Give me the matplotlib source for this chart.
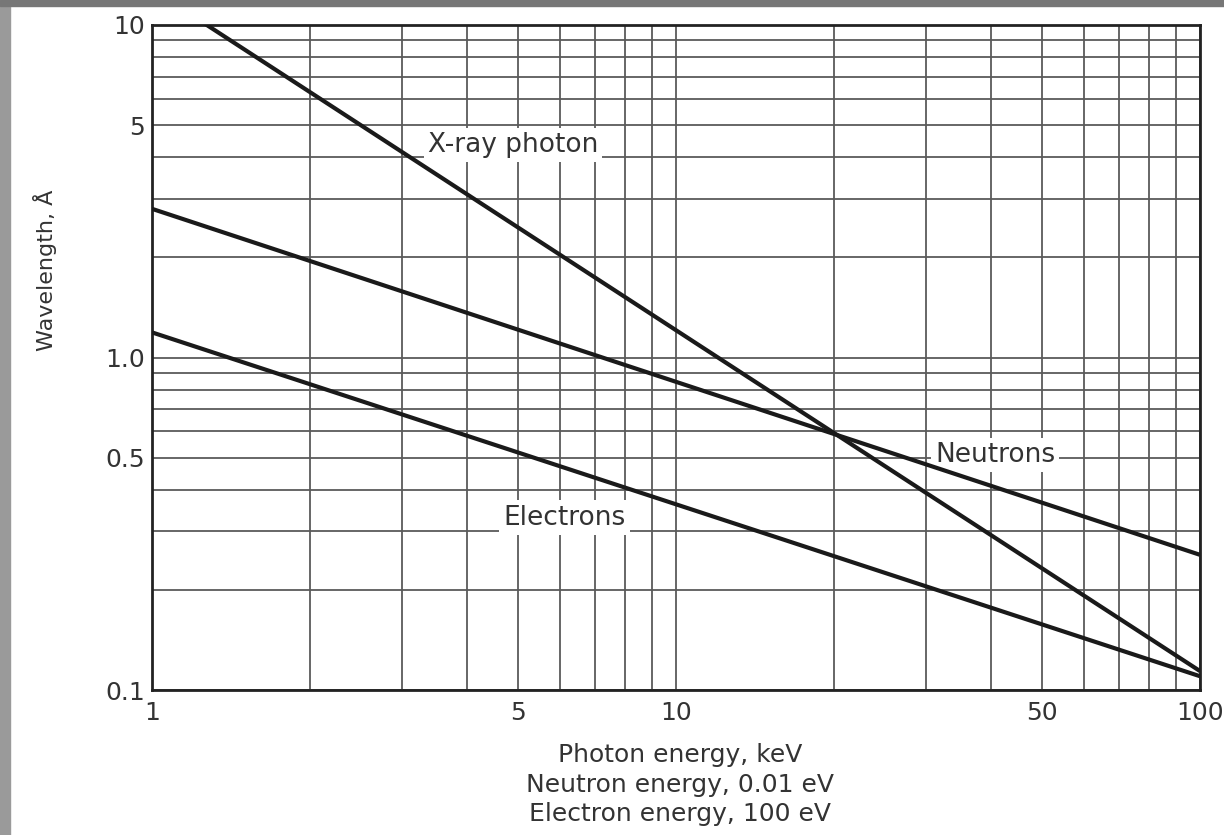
import matplotlib
matplotlib.use("Agg")
import matplotlib.pyplot as plt
from matplotlib.patches import Rectangle
from matplotlib.ticker import FixedLocator, LogLocator, NullFormatter

# energy axis (units: keV photon / 0.01 eV neutron / 100 eV electron)
energy = [1, 100]
xray_wl = [12.8, 0.114]
neutron_wl = [2.8, 0.255]
electron_wl = [1.19, 0.110]

x_ticks = [1, 5, 10, 50, 100]
x_tick_labels = ["1", "5", "10", "50", "100"]
y_ticks = [0.1, 0.5, 1.0, 5, 10]
y_tick_labels = ["0.1", "0.5", "1.0", "5", "10"]

plt.rcParams["font.family"] = ["DejaVu Sans"]
TXT = "#333333"

fig = plt.figure(figsize=(12.24, 8.35), dpi=100)
ax = fig.add_axes([152 / 1224, 1 - 690 / 835, 1048 / 1224, 665 / 835])

ax.set_xscale("log")
ax.set_yscale("log")
ax.set_xlim(1, 100)
ax.set_ylim(0.1, 10)

ax.xaxis.set_major_locator(FixedLocator(x_ticks))
ax.xaxis.set_minor_locator(LogLocator(base=10, subs=range(1, 10)))
ax.yaxis.set_major_locator(FixedLocator(y_ticks))
ax.yaxis.set_minor_locator(LogLocator(base=10, subs=range(1, 10)))
ax.xaxis.set_minor_formatter(NullFormatter())
ax.yaxis.set_minor_formatter(NullFormatter())
ax.set_xticklabels(x_tick_labels)
ax.set_yticklabels(y_tick_labels)
ax.tick_params(which="both", length=0, labelsize=18, labelcolor=TXT)
ax.tick_params(axis="x", pad=8)
ax.tick_params(axis="y", pad=5)

ax.grid(which="both", color="#5a5a5a", linewidth=1.3)
ax.set_axisbelow(True)
for s in ax.spines.values():
    s.set_linewidth(2)
    s.set_color("#222222")

for wl in (xray_wl, neutron_wl, electron_wl):
    ax.plot(energy, wl, color="#1a1a1a", linewidth=3, solid_capstyle="butt", zorder=3)

# labels sit on white patches over the grid, but under the curves
box = dict(facecolor="white", edgecolor="none", pad=3)
ax.text(3.36, 4.36, "X-ray photon", fontsize=19, color=TXT, ha="left", va="center", bbox=box, zorder=2.5)
ax.text(31.2, 0.51, "Neutrons", fontsize=19, color=TXT, ha="left", va="center", bbox=box, zorder=2.5)
ax.text(4.68, 0.33, "Electrons", fontsize=19, color=TXT, ha="left", va="center", bbox=box, zorder=2.5)

fig.text(680 / 1224, 1 - 755 / 835, "Photon energy, keV", fontsize=18, color=TXT, ha="center", va="center")
fig.text(680 / 1224, 1 - 785 / 835, "Neutron energy, 0.01 eV", fontsize=18, color=TXT, ha="center", va="center")
fig.text(680 / 1224, 1 - 814 / 835, "Electron energy, 100 eV", fontsize=18, color=TXT, ha="center", va="center")
fig.text(45 / 1224, 1 - 270 / 835, "Wavelength, Å", fontsize=16, color=TXT, rotation=90,
         ha="center", va="center")

# scanned-page frame strips
fig.patches.append(Rectangle((0, 0), 10 / 1224, 1, transform=fig.transFigure, color="#9a9a9a", zorder=0))
fig.patches.append(Rectangle((0, 1 - 6 / 835), 1, 6 / 835, transform=fig.transFigure, color="#777777", zorder=0))

fig.savefig("out.png", dpi=100, facecolor="white")
